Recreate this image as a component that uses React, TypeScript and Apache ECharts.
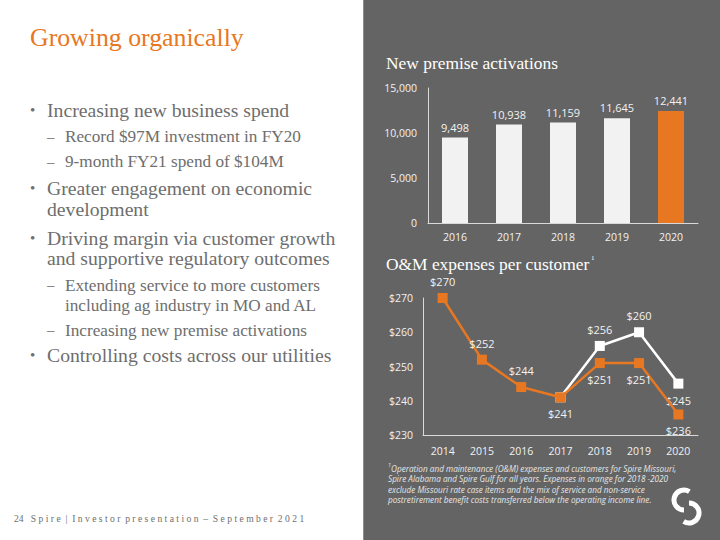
import React, { useEffect, useRef } from "react";
import * as echarts from "echarts";

const barYears = ["2016", "2017", "2018", "2019", "2020"];
const activations = [9498, 10938, 11159, 11645, 12441];
const barTicks = [0, 5000, 10000, 15000];

const omYears = ["2014", "2015", "2016", "2017", "2018", "2019", "2020"];
const omAdjusted = [270, 252, 244, 241, 251, 251, 236];
const omReported = [null, null, null, 241, 256, 260, 245];
const omAdjustedLabelPos = ["top", "top", "top", "bottom", "bottom", "bottom", "bottom"];
const omReportedLabelPos = ["top", "top", "top", "top", "top", "top", "bottom"];

const ORANGE = "#E87722";
const PANEL = "#646464";
const GRAY_TEXT = "#6e6e6e";
const LIGHT = "#f2f2f2";
const SERIF = "'Liberation Serif', 'DejaVu Serif', serif";
const SANS = "'Open Sans', 'Noto Sans', sans-serif";

type Line = { t: string; x: number; y: number; size: number; kind?: "bullet" | "dash" };
const BIG = 19.7;
const SMALL = 17.2;
const bodyLines: Line[] = [
  { t: "Increasing new business spend", x: 47, y: 110, size: BIG, kind: "bullet" },
  { t: "Record $97M investment in FY20", x: 65, y: 136.5, size: SMALL, kind: "dash" },
  { t: "9-month FY21 spend of $104M", x: 65, y: 161.5, size: SMALL, kind: "dash" },
  { t: "Greater engagement on economic", x: 47, y: 188, size: BIG, kind: "bullet" },
  { t: "development", x: 47, y: 208.5, size: BIG },
  { t: "Driving margin via customer growth", x: 47, y: 237.5, size: BIG, kind: "bullet" },
  { t: "and supportive regulatory outcomes", x: 47, y: 258, size: BIG },
  { t: "Extending service to more customers", x: 65, y: 285, size: SMALL, kind: "dash" },
  { t: "including ag industry in MO and AL", x: 65, y: 305, size: SMALL },
  { t: "Increasing new premise activations", x: 65, y: 330, size: SMALL, kind: "dash" },
  { t: "Controlling costs across our utilities", x: 47, y: 355, size: BIG, kind: "bullet" },
];

const footnoteLines = [
  "Operation and maintenance (O&M) expenses and customers for Spire Missouri,",
  "Spire Alabama and Spire Gulf for all years. Expenses in orange for 2018 -2020",
  "exclude Missouri rate case items and the mix of service and non-service",
  "postretirement benefit costs transferred below the operating income line.",
];

export default function App() {
  const ref = useRef<HTMLDivElement>(null);
  useEffect(() => {
    if (!ref.current) return;
    const chart = echarts.init(ref.current, undefined, { renderer: "svg" });

    const graphics: any[] = [
      { type: "rect", shape: { x: 363, y: 0, width: 357, height: 540 }, style: { fill: PANEL }, z: -10 },
      { type: "line", shape: { x1: 363.5, y1: 0, x2: 363.5, y2: 540 }, style: { stroke: "#8c8c8c", lineWidth: 1 }, z: -9 },
      {
        type: "text", x: 30, y: 37,
        style: { text: "Growing organically", fill: ORANGE, font: `25.8px ${SERIF}`, verticalAlign: "middle" },
      },
    ];
    bodyLines.forEach((l) => {
      graphics.push({
        type: "text", x: l.x, y: l.y,
        style: { text: l.t, fill: GRAY_TEXT, font: `${l.size}px ${SERIF}`, verticalAlign: "middle" },
      });
      if (l.kind === "bullet") {
        graphics.push({
          type: "text", x: 30, y: l.y,
          style: { text: "•", fill: GRAY_TEXT, font: `15px ${SERIF}`, verticalAlign: "middle" },
        });
      } else if (l.kind === "dash") {
        graphics.push({
          type: "text", x: 47, y: l.y,
          style: { text: "–", fill: GRAY_TEXT, font: `15px ${SERIF}`, verticalAlign: "middle" },
        });
      }
    });
    graphics.push({
      type: "text", x: 14, y: 518,
      style: {
        text: "24   S p i r e  |  I n v e s t o r  p r e s e n t a t i o n  –  S e p t e m b e r  2 0 2 1",
        fill: GRAY_TEXT, font: `9.6px ${SERIF}`, verticalAlign: "middle",
      },
    });
    graphics.push({
      type: "text", x: 386, y: 63,
      style: { text: "New premise activations", fill: "#ffffff", font: `17.4px ${SERIF}`, verticalAlign: "middle" },
    });
    graphics.push({
      type: "text", x: 386, y: 264,
      style: { text: "O&M expenses per customer", fill: "#ffffff", font: `17.4px ${SERIF}`, verticalAlign: "middle" },
    });
    graphics.push({
      type: "text", x: 591, y: 258,
      style: { text: "1", fill: "#ffffff", font: `7px ${SERIF}`, verticalAlign: "middle" },
    });
    graphics.push({
      type: "text", x: 388, y: 465,
      style: { text: "1", fill: "#e6e6e6", font: `italic 5.5px ${SANS}`, verticalAlign: "middle" },
    });
    footnoteLines.forEach((t, i) => {
      graphics.push({
        type: "text", x: i === 0 ? 391 : 388, y: 468 + i * 10.6,
        style: { text: t, fill: "#e6e6e6", font: `italic 8.2px ${SANS}`, verticalAlign: "middle" },
      });
    });
    graphics.push(
      {
        type: "arc",
        shape: { cx: 684, cy: 500, r: 10, startAngle: Math.PI * 0.5, endAngle: Math.PI * 1.68, clockwise: true },
        style: { stroke: "#ffffff", lineWidth: 5, fill: "none", lineCap: "butt" },
      },
      {
        type: "arc",
        shape: { cx: 689, cy: 513, r: 10, startAngle: -Math.PI * 0.5, endAngle: Math.PI * 0.68, clockwise: true },
        style: { stroke: "#ffffff", lineWidth: 5, fill: "none", lineCap: "butt" },
      }
    );

    const axisLabel = { color: LIGHT, fontFamily: SANS, fontSize: 10.5 };
    const labelStyle = { color: LIGHT, fontFamily: SANS, fontSize: 11 };

    chart.setOption({
      animation: false,
      backgroundColor: "#ffffff",
      graphic: graphics,
      grid: [
        { left: 428, top: 88, right: 22, height: 135 },
        { left: 423, top: 298, right: 22, height: 137 },
      ],
      xAxis: [
        {
          type: "category", gridIndex: 0, data: barYears,
          axisLine: { lineStyle: { color: "#d9d9d9", width: 1 } },
          axisTick: { show: false },
          axisLabel: { ...axisLabel, margin: 8 },
        },
        {
          type: "category", gridIndex: 1, data: omYears,
          axisLine: { lineStyle: { color: "#d9d9d9", width: 1 } },
          axisTick: { show: false },
          axisLabel: { ...axisLabel, margin: 10 },
        },
      ],
      yAxis: [
        {
          type: "value", gridIndex: 0, min: barTicks[0], max: barTicks[barTicks.length - 1], interval: 5000,
          axisLine: { show: true, lineStyle: { color: "#d9d9d9", width: 1 } },
          axisTick: { show: false },
          splitLine: { show: false },
          axisLabel: { ...axisLabel, margin: 11, formatter: (v: number) => v.toLocaleString("en-US") },
        },
        {
          type: "value", gridIndex: 1, min: 230, max: 270, interval: 10,
          axisLine: { show: true, lineStyle: { color: "#d9d9d9", width: 1 } },
          axisTick: { show: false },
          splitLine: { show: false },
          axisLabel: { ...axisLabel, margin: 10, formatter: (v: number) => "$" + v },
        },
      ],
      series: [
        {
          type: "bar", xAxisIndex: 0, yAxisIndex: 0, barWidth: 26,
          data: activations.map((v, i) => ({
            value: v,
            itemStyle: { color: i === activations.length - 1 ? ORANGE : LIGHT },
          })),
          label: {
            show: true, position: "top", distance: 5, ...labelStyle,
            formatter: (p: any) => Number(p.value).toLocaleString("en-US"),
          },
        },
        {
          type: "line", xAxisIndex: 1, yAxisIndex: 1,
          data: omReported.map((v, i) => ({
            value: v,
            label: { position: omReportedLabelPos[i] },
          })),
          symbol: "rect", symbolSize: 10,
          lineStyle: { color: "#ffffff", width: 2.5 },
          itemStyle: { color: "#ffffff" },
          label: {
            show: true, distance: 6, ...labelStyle,
            formatter: (p: any) => (p.dataIndex <= 3 ? "" : "$" + p.value),
          },
          z: 2,
        },
        {
          type: "line", xAxisIndex: 1, yAxisIndex: 1,
          data: omAdjusted.map((v, i) => ({
            value: v,
            label: { position: omAdjustedLabelPos[i] },
          })),
          symbol: "rect", symbolSize: 10,
          lineStyle: { color: ORANGE, width: 2.5 },
          itemStyle: { color: ORANGE },
          label: {
            show: true, distance: 6, ...labelStyle,
            formatter: (p: any) => "$" + p.value,
          },
          z: 3,
        },
      ],
    });
    return () => chart.dispose();
  }, []);
  return (
    <div
      ref={ref}
      style={{ position: "fixed", left: 0, top: 0, width: 720, height: 540 }}
    />
  );
}
